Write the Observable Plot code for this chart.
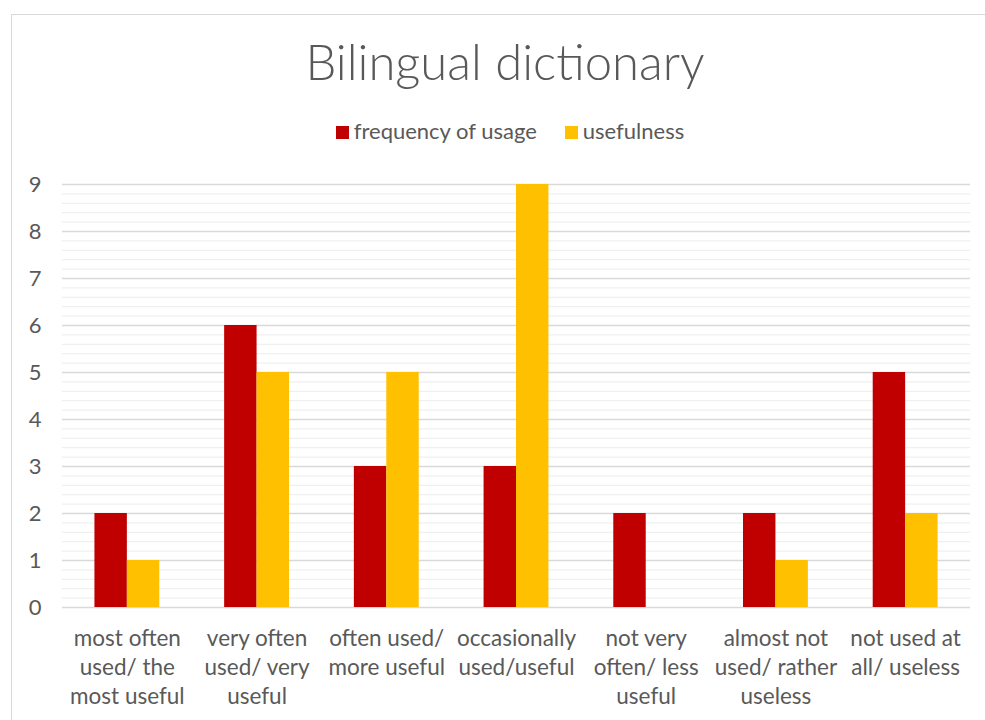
<!DOCTYPE html>
<html>
<head>
<meta charset="utf-8">
<script src="https://cdn.jsdelivr.net/npm/d3@7"></script>
<script src="https://cdn.jsdelivr.net/npm/@observablehq/plot@0.6"></script>
<style>
  html, body { margin: 0; padding: 0; background: #fff; }
  #wrap { position: relative; width: 985px; height: 720px; overflow: hidden; font-family: Lato, "Open Sans", sans-serif; color: #595959; }
  #frame { position: absolute; left: 11px; top: 14px; width: 1000px; height: 800px; border: 1.5px solid #d9d9d9; box-sizing: border-box; }
  #title { position: absolute; left: 0; width: 1010px; top: 29px; text-align: center; font-size: 49px; font-weight: 300; line-height: 64px; }
  #legend { position: absolute; left: 0; width: 1020px; top: 117px; text-align: center; font-size: 22px; line-height: 28px; }
  #legend span.item { display: inline-block; margin: 0 14px; }
  #legend span.sw { display: inline-block; width: 13px; height: 13px; margin-right: 5px; vertical-align: 0px; }
  #chart { position: absolute; left: 0; top: 160px; }
</style>
</head>
<body>
<div id="wrap">
  <div id="frame"></div>
  <div id="title">Bilingual dictionary</div>
  <div id="legend"></div>
  <div id="chart"></div>
</div>
<script>
const categories = [
  "most often\nused/ the\nmost useful",
  "very often\nused/ very\nuseful",
  "often used/\nmore useful",
  "occasionally\nused/useful",
  "not very\noften/ less\nuseful",
  "almost not\nused/ rather\nuseless",
  "not used at\nall/ useless"
];
const seriesNames = ["frequency of usage", "usefulness"];
const frequency = [2, 6, 3, 3, 2, 2, 5];
const usefulness = [1, 5, 5, 9, 0, 1, 2];
const colors = ["#c00000", "#ffc000"];
const yTicks = [0, 1, 2, 3, 4, 5, 6, 7, 8, 9];

const width = 985, height = 560, ml = 62, mr = 15, mt = 24, mb = 113;
const bw = (width - ml - mr) / categories.length;

const freqData = categories.map((c, i) => ({category: c, value: frequency[i]}));
const usefData = categories.map((c, i) => ({category: c, value: usefulness[i]}));
const minor = d3.range(0, 9.001, 0.2).filter(v => Math.abs(v - Math.round(v)) > 1e-6);

// legend
const leg = document.getElementById("legend");
seriesNames.forEach((s, i) => {
  const item = document.createElement("span");
  item.className = "item";
  const sw = document.createElement("span");
  sw.className = "sw";
  sw.style.background = colors[i];
  item.appendChild(sw);
  item.appendChild(document.createTextNode(s));
  leg.appendChild(item);
});

const chart = Plot.plot({
  width, height,
  marginLeft: ml, marginRight: mr, marginTop: mt, marginBottom: mb,
  style: {fontFamily: "Lato, 'Open Sans', sans-serif", color: "#595959", background: "transparent"},
  x: {domain: categories, padding: 0, round: false},
  y: {domain: [0, 9]},
  marks: [
    Plot.ruleY(minor, {stroke: "#f0f0f0", strokeWidth: 1.3}),
    Plot.ruleY(yTicks, {stroke: "#d9d9d9", strokeWidth: 1.3}),
    Plot.barY(freqData, {x: "category", y: "value", fill: colors[0], insetLeft: bw / 4, insetRight: bw / 2}),
    Plot.barY(usefData, {x: "category", y: "value", fill: colors[1], insetLeft: bw / 2, insetRight: bw / 4}),
    Plot.axisY(yTicks, {tickSize: 0, tickPadding: 21, fontSize: 22, fill: "#595959", label: null, tickFormat: d => d}),
    Plot.axisX({tickSize: 0, tickPadding: 18, fontSize: 22.5, lineHeight: 1.29, fill: "#595959", label: null, textOverflow: null})
  ]
});
document.getElementById("chart").appendChild(chart);
</script>
</body>
</html>
